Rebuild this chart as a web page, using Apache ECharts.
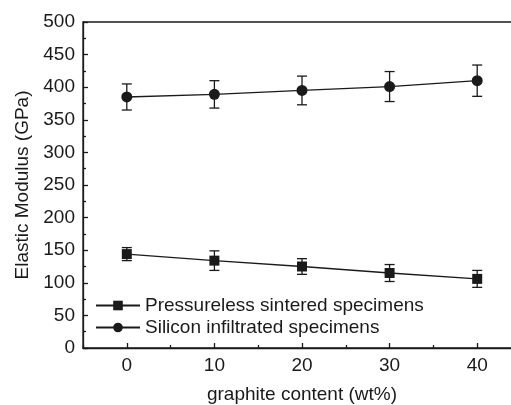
<!DOCTYPE html>
<html><head><meta charset="utf-8">
<script src="https://cdn.jsdelivr.net/npm/echarts@6/dist/echarts.min.js"></script>
<style>html,body{margin:0;padding:0;background:#fff}#c{width:511px;height:405px}</style>
</head><body><div id="c"></div>
<script>
const xValues = [0, 10, 20, 30, 40];
const pressMean = [144, 134, 125, 115, 106];
const pressErr = [10, 15, 12, 13, 13];
const siliconMean = [385, 389, 395, 401, 410];
const siliconErr = [20, 21, 22, 23, 24];
const majorXTicks = [0, 10, 20, 30, 40];
const minorXTicks = [-5, 5, 15, 25, 35];

const FONT = 'Liberation Sans, Arial, sans-serif';
const C = '#1a1a1a';

function errSeries(mean, err) {
  return {
    type: 'custom',
    silent: true,
    z: 3,
    data: xValues.map((x, i) => [x, mean[i] - err[i], mean[i] + err[i]]),
    renderItem: function (params, api) {
      const lo = api.coord([api.value(0), api.value(1)]);
      const hi = api.coord([api.value(0), api.value(2)]);
      const w = 5;
      const st = { stroke: C, lineWidth: 1.3 };
      return {
        type: 'group',
        children: [
          { type: 'line', shape: { x1: lo[0], y1: lo[1], x2: hi[0], y2: hi[1] }, style: st },
          { type: 'line', shape: { x1: lo[0] - w, y1: lo[1], x2: lo[0] + w, y2: lo[1] }, style: st },
          { type: 'line', shape: { x1: hi[0] - w, y1: hi[1], x2: hi[0] + w, y2: hi[1] }, style: st }
        ]
      };
    }
  };
}

const chart = echarts.init(document.getElementById('c'), null, { renderer: 'canvas' });
chart.setOption({
  animation: false,
  backgroundColor: '#fff',
  grid: { left: 83, top: 22, bottom: 57, right: -10, outerBoundsMode: 'none', containLabel: false, show: true, borderColor: C, borderWidth: 1.3, backgroundColor: 'transparent' },
  legend: {
    orient: 'vertical', left: 90, top: 291, itemWidth: 44, itemHeight: 12, itemGap: 3,
    textStyle: { fontFamily: FONT, fontSize: 19, color: C },
    data: ['Pressureless sintered specimens', 'Silicon infiltrated specimens']
  },
  xAxis: [{
    type: 'value', min: -5, max: 45, position: 'bottom',
    name: 'graphite content (wt%)', nameLocation: 'middle', nameGap: 37,
    nameTextStyle: { fontFamily: FONT, fontSize: 19, color: C },
    axisLine: { show: true, onZero: false, lineStyle: { color: C, width: 1.3 } },
    axisTick: { show: true, inside: true, length: 5, customValues: majorXTicks, lineStyle: { color: C, width: 1.3 } },
    axisLabel: { customValues: majorXTicks, fontFamily: FONT, fontSize: 19, color: C, margin: 8 },
    splitLine: { show: false }
  }, {
    type: 'value', min: -5, max: 45, position: 'bottom',
    axisLine: { show: false, onZero: false },
    axisTick: { show: true, inside: true, length: 3, customValues: minorXTicks, lineStyle: { color: C, width: 1.3 } },
    axisLabel: { show: false },
    splitLine: { show: false }
  }],
  yAxis: {
    type: 'value', min: 0, max: 500, interval: 50,
    name: 'Elastic Modulus (GPa)', nameLocation: 'middle', nameGap: 51,
    nameTextStyle: { fontFamily: FONT, fontSize: 19, color: C },
    axisLine: { show: true, onZero: false, lineStyle: { color: C, width: 1.3 } },
    axisTick: { show: true, inside: true, length: 5, lineStyle: { color: C, width: 1.3 } },
    minorTick: { show: true, splitNumber: 2, length: 3, lineStyle: { color: C, width: 1.3 } },
    axisLabel: { fontFamily: FONT, fontSize: 19, color: C, margin: 8 },
    splitLine: { show: false }
  },
  series: [
    {
      name: 'Pressureless sintered specimens', type: 'line', z: 4,
      data: xValues.map((x, i) => [x, pressMean[i]]),
      symbol: 'rect', symbolSize: 10,
      lineStyle: { color: C, width: 1.3 }, itemStyle: { color: C }
    },
    {
      name: 'Silicon infiltrated specimens', type: 'line', z: 4,
      data: xValues.map((x, i) => [x, siliconMean[i]]),
      symbol: 'circle', symbolSize: 11,
      lineStyle: { color: C, width: 1.3 }, itemStyle: { color: C }
    },
    errSeries(pressMean, pressErr),
    errSeries(siliconMean, siliconErr)
  ]
});
</script></body></html>
